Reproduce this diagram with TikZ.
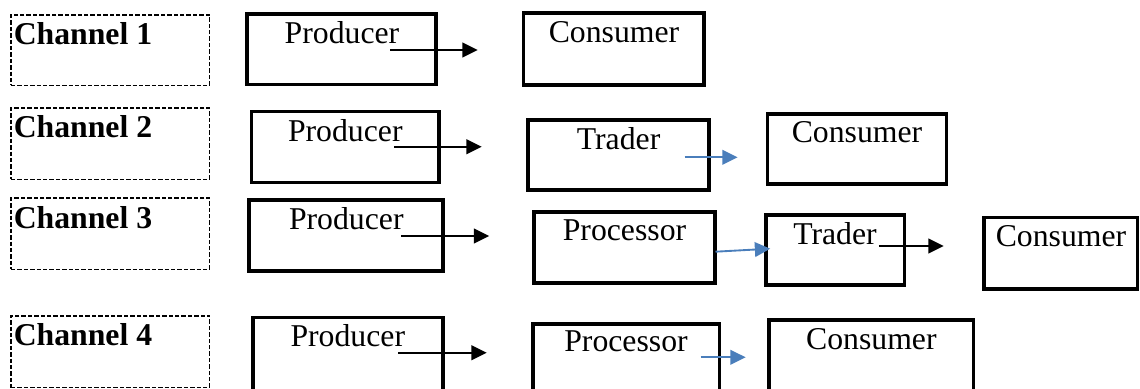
\documentclass[tikz,border=0pt]{standalone}
\usepackage{fontspec}
\setmainfont{Liberation Serif}
\usetikzlibrary{arrows.meta,fit}
\definecolor{arrowblue}{HTML}{4A7EBB}
\begin{document}
\begin{tikzpicture}[x=0.75pt,y=-0.75pt,
  box/.style={draw=black, line width=2.7pt, inner sep=0pt, outer sep=0pt},
  chbox/.style={draw=black, line width=1.2pt, dash pattern=on 3.3pt off 1.5pt, inner sep=0pt, outer sep=0pt},
  lbl/.style={font=\fontsize{23.8}{28}\selectfont, inner sep=0pt, anchor=base},
  chlbl/.style={font=\fontsize{23.8}{28}\selectfont\bfseries, inner sep=0pt, anchor=base west},
  blk/.style={draw=black, line width=1.6pt, -{Triangle[length=11.5pt,width=11pt]}},
  blu/.style={draw=arrowblue, line width=1.4pt, -{Triangle[length=11.5pt,width=11pt]}},
]
\useasboundingbox (0,0) rectangle (1140,389);
\clip (0,0) rectangle (1140,389);

% ---------- channel boxes ----------
\node[chbox, fit={(11,14.7) (209.6,85.3)}] (ch1) {};
\node[chbox, fit={(11,108) (209.6,179.3)}] (ch2) {};
\node[chbox, fit={(11,198) (209.6,269.3)}] (ch3) {};
\node[chbox, fit={(11,315.7) (209.6,387.6)}] (ch4) {};
\node[chlbl] (ch1t) at (13.5,44) {Channel 1};
\node[chlbl] (ch2t) at (13.5,137) {Channel 2};
\node[chlbl] (ch3t) at (13.5,228.5) {Channel 3};
\node[chlbl] (ch4t) at (13.5,345) {Channel 4};

% ---------- row 1 ----------
\node[box, fit={(247.2,14.2) (436.2,84.5)}] (p1) {};
\node[box, fit={(523.5,13.2) (703.8,85.2)}] (c1) {};
\node[lbl] (p1t) at (342,43) {Producer};
\node[lbl] (c1t) at (614,42.7) {Consumer};
\coordinate (a1s) at (390,50);
\coordinate (a1e) at (477.7,50);
\draw[blk] (a1s) -- (a1e);

% ---------- row 2 ----------
\node[box, fit={(251.5,111.5) (439.2,182.5)}] (p2) {};
\node[box, fit={(528,119.8) (709,190.2)}] (t2) {};
\node[box, fit={(767.5,113.8) (946.5,184.2)}] (c2) {};
\node[lbl] (p2t) at (345.3,141) {Producer};
\node[lbl] (t2t) at (618.6,149.3) {Trader};
\node[lbl] (c2t) at (857,142.7) {Consumer};
\coordinate (a2s) at (394,146.7);
\coordinate (a2e) at (481.7,146.7);
\draw[blk] (a2s) -- (a2e);
\coordinate (b2s) at (684.5,157.3);
\coordinate (b2e) at (737.6,157.3);
\draw[blu] (b2s) -- (b2e);

% ---------- row 3 ----------
\node[box, fit={(248.8,199.8) (442.8,270.8)}] (p3) {};
\node[box, fit={(534.2,212.2) (714.8,282.8)}] (r3) {};
\node[box, fit={(766,214.8) (904.5,285.2)}] (t3) {};
\node[box, fit={(984,217.5) (1137.3,289.2)}] (c3) {};
\node[lbl] (p3t) at (346.3,229.3) {Producer};
\node[lbl] (r3t) at (624.5,240) {Processor};
\node[lbl] (t3t) at (835,244) {Trader};
\node[lbl] (c3t) at (1061,246.7) {Consumer};
\coordinate (a3s) at (401,236);
\coordinate (a3e) at (489.3,236);
\draw[blk] (a3s) -- (a3e);
\coordinate (b3s) at (715.5,251.7);
\coordinate (b3e) at (770.2,248.7);
\draw[blu] (b3s) -- (b3e);
\coordinate (d3s) at (878.8,246);
\coordinate (d3e) at (943.7,246);
\draw[blk] (d3s) -- (d3e);

% ---------- row 4 ----------
\node[box, fit={(252.8,317.5) (442.8,395)}] (p4) {};
\node[box, fit={(532.7,323.8) (719.5,395)}] (r4) {};
\node[box, fit={(769.2,319.8) (973.5,395)}] (c4) {};
\node[lbl] (p4t) at (347.8,346) {Producer};
\node[lbl] (r4t) at (626,351.7) {Processor};
\node[lbl] (c4t) at (871.4,349) {Consumer};
\coordinate (a4s) at (398.3,352.7);
\coordinate (a4e) at (486.7,352.7);
\draw[blk] (a4s) -- (a4e);
\coordinate (b4s) at (700.7,357.3);
\coordinate (b4e) at (745.7,357.3);
\draw[blu] (b4s) -- (b4e);
\end{tikzpicture}
\end{document}
